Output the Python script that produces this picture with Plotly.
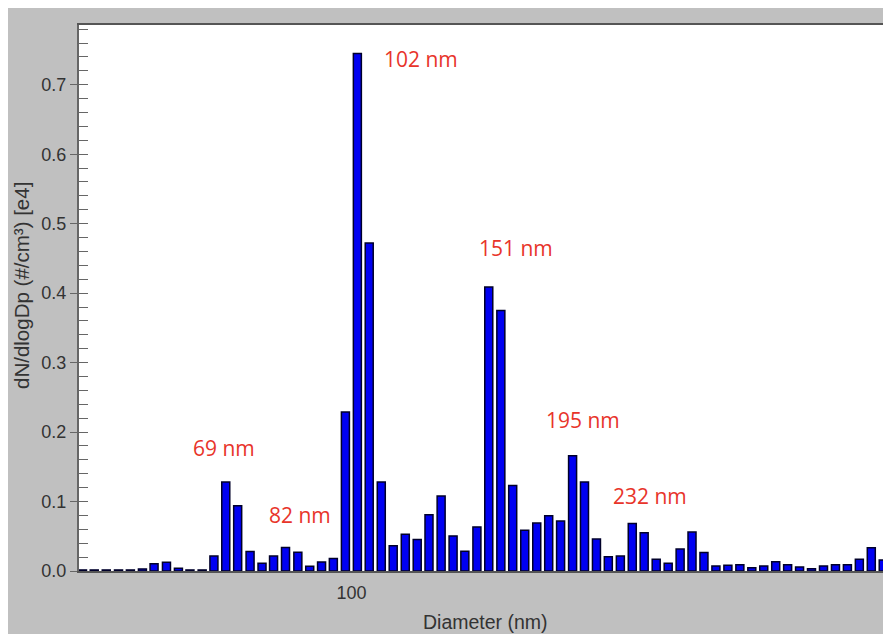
import plotly.graph_objects as go

# Channel midpoint diameters (nm)
diameters = [44.5, 46.1, 47.8, 49.6, 51.4, 53.3, 55.2, 57.3, 59.4, 61.5, 63.8, 66.1,
             68.5, 71.0, 73.7, 76.4, 79.1, 82.0, 85.1, 88.2, 91.4, 94.7, 98.2,
             101.8, 105.5, 109.4, 113.4, 117.6, 121.9, 126.3, 131.0, 135.8, 140.7,
             145.9, 151.2, 156.8, 162.5, 168.5, 174.7, 181.1, 187.7, 194.6, 201.7,
             209.1, 216.7, 224.7, 232.9, 241.4, 250.3, 259.5, 269.0, 278.8, 289.0,
             299.6, 310.6, 322.0, 333.8, 346.0, 358.7, 371.8, 385.4, 399.5, 414.2,
             429.4, 445.1, 461.4, 478.3, 495.8]

# dN/dlogDp [e4]
values = [0.0015, 0.0015, 0.0015, 0.0015, 0.0015, 0.003, 0.0105, 0.0125, 0.004,
          0.0015, 0.0015, 0.0215, 0.128, 0.094, 0.028, 0.011, 0.0215, 0.034, 0.027,
          0.007, 0.013, 0.018, 0.229,
          0.745, 0.472, 0.128, 0.0365, 0.053, 0.0455, 0.081, 0.108, 0.0505, 0.0285,
          0.0635, 0.409, 0.375, 0.123, 0.0585, 0.069, 0.0795, 0.072, 0.166, 0.128,
          0.046, 0.0205, 0.0215, 0.0685, 0.055, 0.0168, 0.011, 0.0316, 0.056, 0.0268,
          0.0072, 0.0081, 0.0091, 0.0048, 0.0072, 0.0134, 0.0091, 0.0058, 0.0034,
          0.0072, 0.0091, 0.0091, 0.0168, 0.0335, 0.0158]

peak_labels = ["69 nm", "82 nm", "102 nm", "151 nm", "195 nm", "232 nm"]
x_tick_vals = [100]
x_tick_text = ["100"]
x_title = "Diameter (nm)"
y_title = "dN/dlogDp (#/cm³) [e4]"

# page keeps an 8px white margin at top and left only; figure fills the rest
OFF = 8
W, H = 883 - OFF, 634 - OFF
L, R, T, B = 71, 0, 17, 63
pw, ph = W - L - R, H - T - B

def px_x(sx):
    return (sx - OFF - L) / pw

def px_y(sy):
    return (H - B - (sy - OFF)) / ph

# equal-looking bar widths on the log axis (64 channels per decade, ~67% fill)
half = 0.67 / 2 / 64
bar_offset = [d * 10 ** (-half) - d for d in diameters]
bar_width = [d * (10 ** half - 10 ** (-half)) for d in diameters]

fig = go.Figure()
fig.add_trace(go.Bar(
    x=diameters, y=values,
    offset=bar_offset, width=bar_width,
    marker=dict(color="#0000f2", line=dict(color="#00002a", width=1.5)),
    hoverinfo="x+y",
))
# invisible helper trace for the inside-ticks axis
fig.add_trace(go.Scatter(x=[100], y=[0], yaxis="y2", mode="markers",
                         marker=dict(opacity=0), hoverinfo="skip", showlegend=False))

tick_font = dict(family="Liberation Sans, Arial, sans-serif", size=18, color="#333333")

fig.update_layout(
    width=W, height=H,
    margin=dict(l=L, r=R, t=T, b=B, pad=0),
    paper_bgcolor="#c0c0c0",
    plot_bgcolor="white",
    showlegend=False,
    xaxis=dict(
        type="log",
        range=[1.6438, 2.695],
        tickvals=x_tick_vals, ticktext=x_tick_text,
        ticks="", showgrid=False, zeroline=False,
        showline=True, linecolor="#555555", linewidth=2, mirror=True,
        tickfont=tick_font, ticklabelstandoff=4,
    ),
    yaxis=dict(
        range=[0, 0.786],
        dtick=0.1, tickformat=".1f",
        ticks="outside", ticklen=7, tickcolor="#666666", tickwidth=1,
        showgrid=False, zeroline=False,
        showline=True, linecolor="#666666", linewidth=2,
        tickfont=tick_font,
    ),
    yaxis2=dict(
        overlaying="y", side="left", anchor="x",
        range=[0, 0.786], dtick=0.02,
        ticks="inside", ticklen=9, tickcolor="#666666", tickwidth=1,
        showticklabels=False, showgrid=False, zeroline=False, showline=False,
    ),
)

title_font = "Liberation Sans, Arial, sans-serif"
fig.add_annotation(text=x_title, xref="paper", yref="paper",
                   x=px_x(485), y=px_y(622), showarrow=False,
                   xanchor="center", yanchor="middle",
                   font=dict(family=title_font, size=19.5, color="#333333"))
fig.add_annotation(text=y_title, xref="paper", yref="paper",
                   x=px_x(21), y=px_y(286), showarrow=False, textangle=-90,
                   xanchor="center", yanchor="middle", borderpad=0,
                   font=dict(family=title_font, size=20.5, color="#333333"))

label_pos = [(224, 448), (300, 515), (421, 59), (516, 248), (583, 420), (650, 496)]
for text, (cx, cy) in zip(peak_labels, label_pos):
    fig.add_annotation(text=text, xref="paper", yref="paper",
                       x=px_x(cx), y=px_y(cy), showarrow=False,
                       xanchor="center", yanchor="middle",
                       font=dict(family="Open Sans, DejaVu Sans, sans-serif", size=21, color="#e8342a"))

fig.write_html("out.html", post_script="document.body.style.margin='8px 0 0 8px';")
